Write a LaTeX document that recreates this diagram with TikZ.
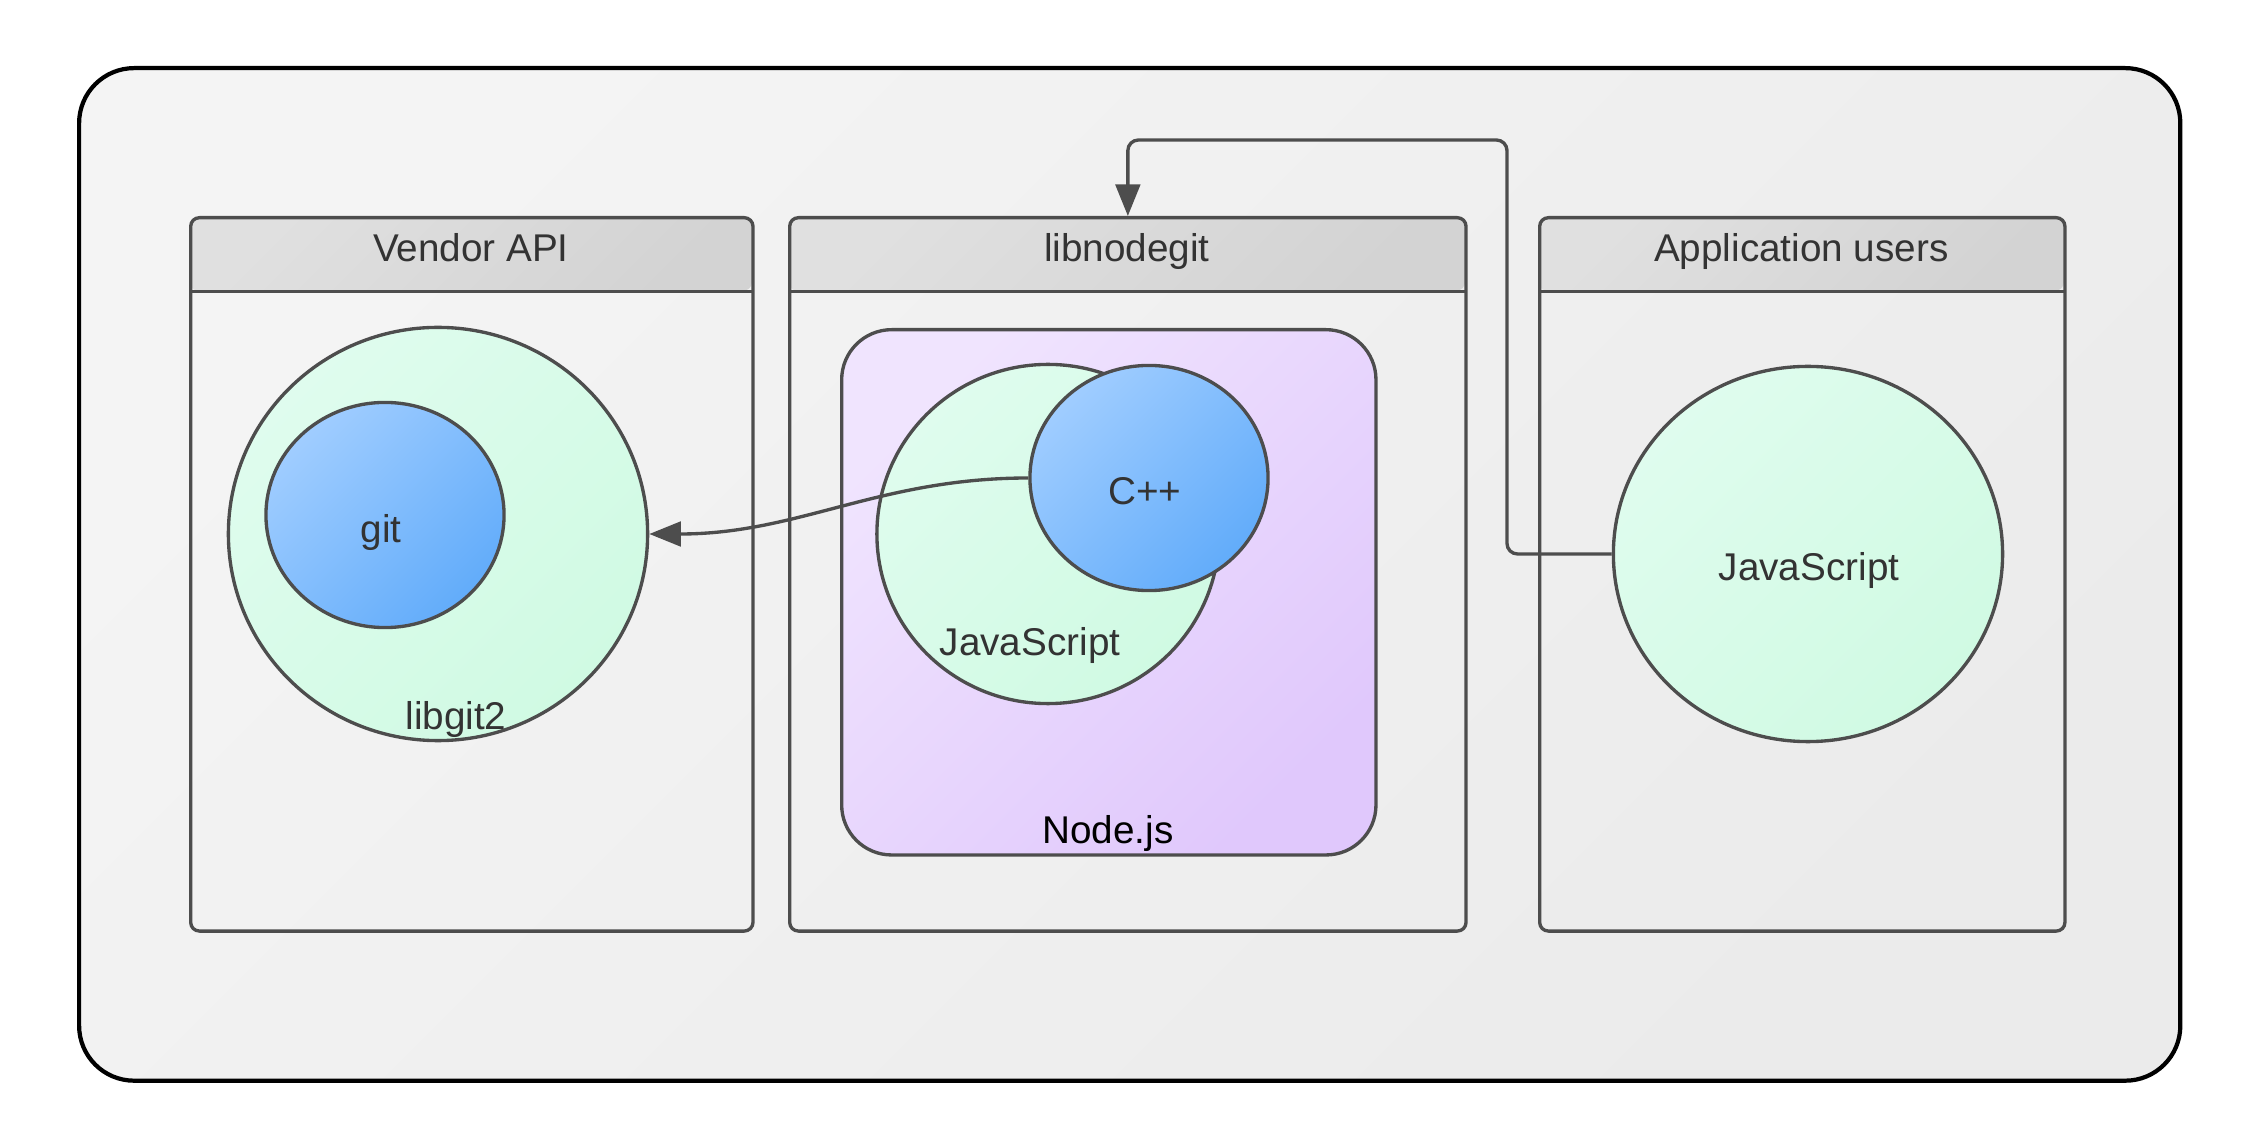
\documentclass[tikz,border=0pt]{standalone}
\usepackage{fontspec}
\setmainfont{Liberation Sans}
\usetikzlibrary{arrows.meta,positioning,shapes.geometric}
\definecolor{linegray}{HTML}{4D4D4D}
\definecolor{textgray}{HTML}{333333}
\definecolor{frametop}{HTML}{F4F4F4}
\definecolor{framebot}{HTML}{EBEBEB}
\definecolor{headtop}{HTML}{E0E0E0}
\definecolor{headbot}{HTML}{D3D3D3}
\definecolor{greentop}{HTML}{DFFCEE}
\definecolor{greenbot}{HTML}{D0FAE3}
\definecolor{bluetop}{HTML}{A0CDFF}
\definecolor{bluebot}{HTML}{62ACFA}
\definecolor{purpletop}{HTML}{F0E4FE}
\definecolor{purplebot}{HTML}{E0C8FC}
\begin{document}
\begin{tikzpicture}[x=0.01cm, y=-0.01cm]
    \tikzstyle{arrow} = [draw=linegray, line width=0.95pt, -{Triangle[length=9pt, width=7pt]}]
    \tikzstyle{panel} = [rectangle, draw=linegray, line width=0.95pt, rounded corners=2.5pt, anchor=north west, minimum height=7.13cm, inner sep=0pt]
    \tikzstyle{header} = [rectangle, rounded corners=2.5pt, anchor=north west, minimum height=0.74cm, top color=headtop, bottom color=headbot, shading angle=45, text=textgray, font=\fontsize{11}{13}\selectfont, text height=8pt, text depth=3.6pt, inner sep=0pt]
    \tikzstyle{bubble} = [ellipse, draw=linegray, line width=0.95pt, top color=greentop, bottom color=greenbot, shading angle=45, inner sep=0pt]
    \tikzstyle{core} = [ellipse, draw=linegray, line width=0.95pt, top color=bluetop, bottom color=bluebot, shading angle=45, inner sep=0pt]
    \tikzstyle{txt} = [text=textgray, font=\fontsize{11}{13}\selectfont, inner sep=0pt]

    \useasboundingbox (0,0) rectangle (2244,1140);
    \fill[white] (0,0) rectangle (2244,1140);

    % outer frame
    \node[draw=black, line width=1.2pt, rounded corners=0.55cm, top color=frametop, bottom color=framebot, shading angle=45, minimum width=21cm, minimum height=10.12cm, anchor=north west, inner sep=0pt](frame) at (77,66) {};

    % panels
    \node[header, minimum width=5.62cm](vhead) at (189,216) {Vendor API};
    \node[header, minimum width=6.76cm](lhead) at (788,216) {libnodegit};
    \node[header, minimum width=5.25cm](ahead) at (1538,216) {Application users};
    \draw[draw=linegray, line width=0.95pt] (vhead.south west) -- (vhead.south east);
    \draw[draw=linegray, line width=0.95pt] (lhead.south west) -- (lhead.south east);
    \draw[draw=linegray, line width=0.95pt] (ahead.south west) -- (ahead.south east);
    \node[panel, minimum width=5.62cm](vendor) at (189,216) {};
    \node[panel, minimum width=6.76cm](libnodegit) at (788,216) {};
    \node[panel, minimum width=5.25cm](appusers) at (1538,216) {};

    % Node.js runtime
    \node[rectangle, draw=linegray, line width=0.95pt, rounded corners=0.5cm, top color=purpletop, bottom color=purplebot, shading angle=45, anchor=north west, minimum width=5.34cm, minimum height=5.25cm, inner sep=0pt](nodejs) at (840,328) {};

    % circles
    \node[bubble, minimum width=4.19cm, minimum height=4.13cm](libgit2) at (438,534) {};
    \node[core, minimum width=2.38cm, minimum height=2.25cm](git) at (385,515) {};
    \node[bubble, minimum width=3.42cm, minimum height=3.39cm](njs) at (1048,534) {};
    \node[core, minimum width=2.38cm, minimum height=2.25cm](cpp) at (1149,478) {};
    \node[bubble, minimum width=3.89cm, minimum height=3.75cm](appjs) at (1808,554) {};

    % labels
    \node[txt](gitlabel) at (381,533) {git};
    \node[txt](libgit2label) at (456,720) {libgit2};
    \node[txt](cpplabel) at (1145,491) {C++};
    \node[txt](njslabel) at (1030,646) {JavaScript};
    \node[txt, text=black](nodejslabel) at (1108,833) {Node.js};
    \node[txt](appjslabel) at (1809,571) {JavaScript};

    % connectors
    \coordinate (turn) at (1507,140);
    \draw[arrow] (cpp.west) to[out=180, in=0] (libgit2.east);
    \draw[arrow, rounded corners=3pt] (appjs.west) -| (turn) -| (libnodegit.north);
\end{tikzpicture}
\end{document}
